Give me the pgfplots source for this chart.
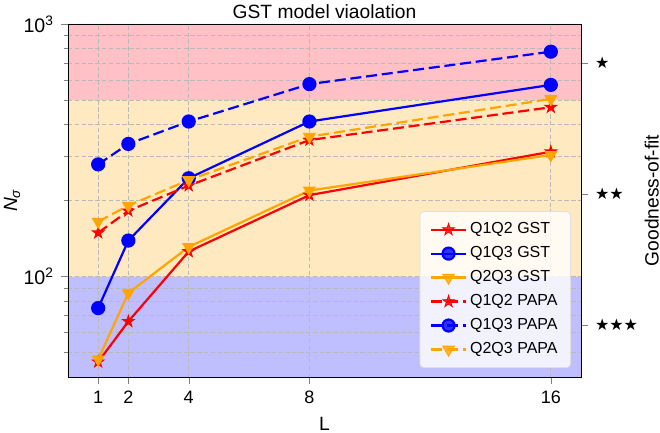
\documentclass[border=0pt]{standalone}
\usepackage{fontspec}
\setmainfont{Liberation Sans}
\newfontfamily\djv{DejaVu Sans}
\usepackage{pgfplots}
\pgfplotsset{compat=1.18}
\definecolor{bandred}{RGB}{255,192,198}
\definecolor{bandorange}{RGB}{255,233,192}
\definecolor{bandblue}{RGB}{191,191,255}
\definecolor{morange}{RGB}{255,165,0}
\pgfdeclareplotmark{fstar}{%
  \pgfpathmoveto{\pgfpointpolar{90}{\pgfplotmarksize}}%
  \pgfpathlineto{\pgfpointpolar{126}{0.382\pgfplotmarksize}}%
  \pgfpathlineto{\pgfpointpolar{162}{\pgfplotmarksize}}%
  \pgfpathlineto{\pgfpointpolar{198}{0.382\pgfplotmarksize}}%
  \pgfpathlineto{\pgfpointpolar{234}{\pgfplotmarksize}}%
  \pgfpathlineto{\pgfpointpolar{270}{0.382\pgfplotmarksize}}%
  \pgfpathlineto{\pgfpointpolar{306}{\pgfplotmarksize}}%
  \pgfpathlineto{\pgfpointpolar{342}{0.382\pgfplotmarksize}}%
  \pgfpathlineto{\pgfpointpolar{18}{\pgfplotmarksize}}%
  \pgfpathlineto{\pgfpointpolar{54}{0.382\pgfplotmarksize}}%
  \pgfpathclose
  \pgfusepathqfillstroke}
\begin{document}
\begin{tikzpicture}
\begin{axis}[
  set layers,
  scale only axis, width=256.5pt, height=176.5pt,
  xmin=0, xmax=17, ymin=40, ymax=1000, ymode=log,
  xtick={1,2,4,8,16},
  ytick={100,1000}, yticklabels={10\textsuperscript{2},10\textsuperscript{3}},
  minor ytick={50,60,70,80,90,200,300,400,500,600,700,800,900},
  xtick pos=bottom, ytick pos=left,
  tick align=outside, major tick length=3.5pt, minor tick length=2pt,
  /pgf/number format/assume math mode=true,
  grid=both,
  major grid style={dash pattern=on 2.2pt off 1.2pt, gray!55, line width=0.4pt},
  minor grid style={dash pattern=on 2.2pt off 1.2pt, gray!55, line width=0.4pt},
  xticklabel style={font=\fontsize{9}{11}\selectfont},
  yticklabel style={font=\fontsize{9.8}{11}\selectfont},
  title={GST model viaolation},
  every axis title shift=0pt,
  title style={at={(axis description cs:0.5,1.034)}, anchor=center, font=\fontsize{9.6}{11}\selectfont},
  xlabel={L},
  xlabel style={at={(axis description cs:0.5,-0.134)}, anchor=center, font=\fontsize{9.6}{11}\selectfont},
  ylabel={\itshape N\textsubscript{σ}},
  ylabel style={at={(axis description cs:-0.109,0.5)}, anchor=center, font=\fontsize{9.6}{11}\selectfont},
  legend cell align=left,
  legend style={at={(0.9805,0.0255)}, anchor=south east,
    font=\fontsize{8}{9.5}\selectfont,
    fill=white, fill opacity=0.8, text opacity=1, draw opacity=1,
    draw=gray!25, rounded corners=2pt, inner xsep=5pt, inner ysep=4pt,
    row sep=1.9pt, nodes={inner sep=1.5pt},
    /tikz/every even column/.append style={column sep=2.5pt}},
  legend image code/.code={\draw[mark repeat=2,mark phase=2] plot coordinates {(0pt,0pt) (8.75pt,0pt) (17.5pt,0pt)};},
  every axis plot/.append style={line width=1.1pt},
]
\addplot[fill=bandred, draw=none, on layer=axis background, forget plot] coordinates {(0,500) (17,500) (17,1000) (0,1000) (0,500)};
\addplot[fill=bandorange, draw=none, on layer=axis background, forget plot] coordinates {(0,100) (17,100) (17,500) (0,500) (0,100)};
\addplot[fill=bandblue, draw=none, on layer=axis background, forget plot] coordinates {(0,40) (17,40) (17,100) (0,100) (0,40)};

\addplot[red, mark=fstar, mark size=3.1pt, mark options={solid, line width=0.4pt}] coordinates {(1,45.9) (2,66.4) (4,125.6) (8,210) (16,312)};
\addlegendentry{Q1Q2 GST}
\addplot[blue, mark=*, mark size=3pt, mark options={solid}] coordinates {(1,75) (2,138.8) (4,245) (8,411) (16,574)};
\addlegendentry{Q1Q3 GST}
\addplot[morange, mark=triangle*, mark size=3.4pt, mark options={solid, rotate=180, line width=0.4pt}] coordinates {(1,47) (2,86) (4,131) (8,219) (16,303)};
\addlegendentry{Q2Q3 GST}
\addplot[red, dash pattern=on 5.5pt off 2.4pt, mark=fstar, mark size=3.1pt, mark options={solid, line width=0.4pt}] coordinates {(1,149) (2,182) (4,229) (8,347) (16,468)};
\addlegendentry{Q1Q2 PAPA}
\addplot[blue, dash pattern=on 5.5pt off 2.4pt, mark=*, mark size=3pt, mark options={solid}] coordinates {(1,278) (2,335) (4,411) (8,578) (16,777)};
\addlegendentry{Q1Q3 PAPA}
\addplot[morange, dash pattern=on 5.5pt off 2.4pt, mark=triangle*, mark size=3.4pt, mark options={solid, rotate=180, line width=0.4pt}] coordinates {(1,165) (2,191) (4,241) (8,358) (16,505)};
\addlegendentry{Q2Q3 PAPA}
\end{axis}
\begin{axis}[
  scale only axis, width=256.5pt, height=176.5pt,
  xmin=0, xmax=17, ymin=0, ymax=1,
  axis x line=none, axis y line*=right,
  ytick={0.889,0.518,0.147},
  yticklabels={{\djv ★},{\djv ★★},{\djv ★★★}},
  tick align=outside, major tick length=3.5pt,
  tick label style={font=\fontsize{8}{10}\selectfont},
  ylabel={Goodness-of-fit},
  ylabel style={at={(axis description cs:1.138,0.5)}, anchor=center, rotate=0, font=\fontsize{9.6}{11}\selectfont},
]
\end{axis}
\pgfresetboundingbox
\path ([xshift=-34pt,yshift=-28pt]current axis.south west) rectangle ([xshift=39.5pt,yshift=12pt]current axis.north east);
\end{tikzpicture}
\end{document}
